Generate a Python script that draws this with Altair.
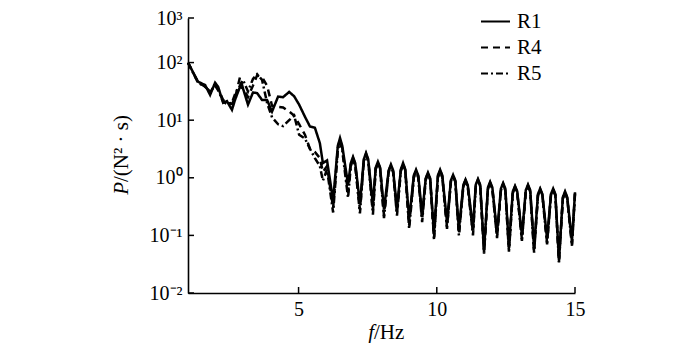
import altair as alt
import pandas as pd

# ---------------- data ----------------
series_names = ["R1", "R4", "R5"]

f_pre = [1.00, 1.36, 1.62, 1.80, 1.98, 2.09, 2.27, 2.41, 2.59, 2.70, 2.88, 2.99,
         3.17, 3.35, 3.50, 3.68, 3.86, 4.04, 4.26, 4.44, 4.66, 4.84, 5.02, 5.23,
         5.41, 5.59, 5.77, 5.88, 6.03]
r1_pre = [100, 46.8, 40.7, 27.5, 44.7, 38.0, 20.0, 21.4, 15.1, 22.4, 38.0, 35.5,
          18.6, 30.2, 29.5, 22.4, 22.4, 14.1, 25.7, 25.1, 30.9, 26.0, 18.6, 11.5,
          7.8, 7.4, 4.0, 1.8, 2.0]
r4_pre = [100, 45.7, 38.0, 30.2, 41.7, 35.5, 22.4, 20.0, 19.1, 24.0, 56.0, 35.5,
          25.1, 39.8, 60.0, 56.0, 39.8, 17.8, 17.0, 16.6, 14.1, 12.0, 8.5, 5.6,
          3.2, 2.8, 2.2, 1.26, 1.6]
r5_pre = [100, 44.7, 38.0, 31.6, 39.8, 33.1, 20.9, 19.1, 20.0, 28.2, 39.8, 50.0,
          31.6, 52.0, 63.0, 50.0, 20.0, 11.2, 8.5, 7.9, 10.0, 12.0, 5.6, 4.8,
          3.2, 2.2, 1.6, 0.89, 1.4]

f_osc = [6.25,
         6.42, 6.50, 6.58, 6.79,
         6.89, 6.97, 7.05, 7.22,
         7.36, 7.44, 7.52, 7.69,
         7.79, 7.87, 7.95, 8.09,
         8.26, 8.34, 8.42, 8.56,
         8.70, 8.78, 8.86, 9.00,
         9.17, 9.25, 9.33, 9.47,
         9.60, 9.68, 9.76, 9.90,
         10.04, 10.12, 10.20, 10.37,
         10.51, 10.59, 10.67, 10.80,
         10.96, 11.04, 11.12, 11.31,
         11.41, 11.49, 11.57, 11.71,
         11.85, 11.93, 12.01, 12.18,
         12.32, 12.40, 12.48, 12.61,
         12.75, 12.83, 12.91, 13.08,
         13.22, 13.30, 13.38, 13.52,
         13.66, 13.74, 13.82, 13.99,
         14.13, 14.21, 14.29, 14.42,
         14.56, 14.64, 14.72, 14.89,
         15.00]
r1_osc = [0.40,
          3.6, 4.9, 3.6, 0.76,
          1.8, 2.3, 1.8, 0.35,
          2.1, 2.7, 2.1, 0.34,
          1.5, 1.9, 1.5, 0.28,
          1.35, 1.7, 1.35, 0.30,
          1.4, 1.8, 1.4, 0.19,
          1.1, 1.38, 1.1, 0.23,
          0.98, 1.23, 0.98, 0.11,
          1.1, 1.38, 1.1, 0.17,
          0.9, 1.12, 0.9, 0.126,
          0.75, 0.93, 0.75, 0.135,
          0.76, 0.95, 0.76, 0.056,
          0.68, 0.85, 0.68, 0.112,
          0.65, 0.81, 0.65, 0.063,
          0.58, 0.72, 0.58, 0.10,
          0.61, 0.76, 0.61, 0.06,
          0.52, 0.65, 0.52, 0.087,
          0.52, 0.65, 0.52, 0.038,
          0.46, 0.58, 0.46, 0.079,
          0.56]
r4_osc = [0.30,
          3.3, 4.5, 3.3, 0.55,
          1.7, 2.2, 1.7, 0.28,
          2.0, 2.6, 2.0, 0.27,
          1.45, 1.85, 1.45, 0.22,
          1.3, 1.65, 1.3, 0.24,
          1.35, 1.75, 1.35, 0.15,
          1.05, 1.34, 1.05, 0.19,
          0.95, 1.2, 0.95, 0.09,
          1.05, 1.34, 1.05, 0.14,
          0.87, 1.09, 0.87, 0.105,
          0.72, 0.9, 0.72, 0.11,
          0.73, 0.92, 0.73, 0.05,
          0.65, 0.82, 0.65, 0.095,
          0.62, 0.78, 0.62, 0.055,
          0.56, 0.7, 0.56, 0.085,
          0.59, 0.74, 0.59, 0.052,
          0.5, 0.63, 0.5, 0.075,
          0.5, 0.63, 0.5, 0.035,
          0.44, 0.56, 0.44, 0.07,
          0.54]
r5_osc = [0.25,
          3.0, 4.2, 3.0, 0.45,
          1.6, 2.1, 1.6, 0.24,
          1.9, 2.5, 1.9, 0.23,
          1.4, 1.8, 1.4, 0.20,
          1.25, 1.6, 1.25, 0.22,
          1.3, 1.7, 1.3, 0.13,
          1.0, 1.3, 1.0, 0.17,
          0.92, 1.17, 0.92, 0.085,
          1.0, 1.3, 1.0, 0.13,
          0.85, 1.06, 0.85, 0.10,
          0.7, 0.88, 0.7, 0.10,
          0.71, 0.9, 0.71, 0.048,
          0.63, 0.8, 0.63, 0.09,
          0.6, 0.76, 0.6, 0.052,
          0.54, 0.68, 0.54, 0.08,
          0.57, 0.72, 0.57, 0.05,
          0.49, 0.61, 0.49, 0.07,
          0.49, 0.61, 0.49, 0.034,
          0.43, 0.55, 0.43, 0.066,
          0.52]

x_tick_values = [5, 10, 15]
y_tick_values = [0.01, 0.1, 1, 10, 100, 594]
y_domain = [0.01, 594]
x_domain = [1, 15]

# ---------------- build table ----------------
f_all = f_pre + f_osc
rows = []
for name, vals in zip(series_names, [r1_pre + r1_osc, r4_pre + r4_osc, r5_pre + r5_osc]):
    for i, (f, v) in enumerate(zip(f_all, vals)):
        rows.append({"f": f, "P": v, "series": name, "i": i})
df = pd.DataFrame(rows)

W, H = 387, 275
FONT = "Liberation Serif"

xscale = alt.Scale(domain=x_domain, nice=False, zero=False)
yscale = alt.Scale(type="log", domain=y_domain, nice=False)

label_expr = ("datum.value < 0.05 ? '10⁻²' : datum.value < 0.5 ? '10⁻¹' : "
              "datum.value < 5 ? '10⁰' : datum.value < 50 ? '10¹' : "
              "datum.value < 500 ? '10²' : '10³'")

lines = alt.Chart(df).mark_line(color="black", strokeWidth=2.5).encode(
    x=alt.X("f:Q", scale=xscale,
            axis=alt.Axis(values=x_tick_values, format="d", title=None, ticks=False,
                          grid=False, domainColor="black", domainWidth=1.6,
                          labelFont=FONT, labelFontSize=20, labelColor="black",
                          labelPadding=6, labelFlush=False)),
    y=alt.Y("P:Q", scale=yscale,
            axis=alt.Axis(values=y_tick_values, labelExpr=label_expr, title=None,
                          ticks=False, grid=False, domainColor="black", domainWidth=1.6,
                          labelFont=FONT, labelFontSize=20, labelColor="black",
                          labelPadding=6, labelFlush=False, labelOverlap=False)),
    strokeDash=alt.StrokeDash(
        "series:N",
        scale=alt.Scale(domain=series_names, range=[[1, 0], [7, 5], [7, 3, 2, 3]]),
        legend=alt.Legend(orient="none", legendX=292, legendY=-12, title=None,
                          symbolType="stroke", symbolSize=841, symbolStrokeWidth=2,
                          symbolStrokeColor="black", labelFont=FONT, labelFontSize=21,
                          labelColor="black", labelOffset=6, rowPadding=0, padding=0)),
    order="i:Q",
)

yticks = alt.Chart(pd.DataFrame({"P": y_tick_values})).mark_rule(
    color="black", strokeWidth=1.5).encode(
    y=alt.Y("P:Q", scale=yscale), x=alt.value(0), x2=alt.value(6))

xticks = alt.Chart(pd.DataFrame({"f": x_tick_values})).mark_rule(
    color="black", strokeWidth=1.5).encode(
    x=alt.X("f:Q", scale=xscale), y=alt.value(H), y2=alt.value(H - 6))

title_df = pd.DataFrame({"a": [0]})
xt1 = alt.Chart(title_df).mark_text(text="f", font=FONT, fontSize=21, fontStyle="italic",
                                    align="right", baseline="alphabetic", color="black").encode(
    x=alt.value(186), y=alt.value(321))
xt2 = alt.Chart(title_df).mark_text(text="/Hz", font=FONT, fontSize=21,
                                    align="left", baseline="alphabetic", color="black").encode(
    x=alt.value(186), y=alt.value(321))
yt1 = alt.Chart(title_df).mark_text(text="P", font=FONT, fontSize=21, fontStyle="italic",
                                    angle=270, align="right", baseline="middle", color="black").encode(
    x=alt.value(-66), y=alt.value(164))
yt2 = alt.Chart(title_df).mark_text(text="/(N² · s)", font=FONT, fontSize=21,
                                    angle=270, align="left", baseline="middle", color="black").encode(
    x=alt.value(-66), y=alt.value(164))

chart = alt.layer(lines, yticks, xticks, xt1, xt2, yt1, yt2).properties(
    width=W, height=H,
    autosize=alt.AutoSizeParams(type="none"),
    padding={"left": 180, "top": 10, "right": 100, "bottom": 50},
).configure_view(stroke=None).configure_axis(
    labelFont=FONT, labelColor="black"
).configure_legend(labelFont=FONT)

chart.save("out.html", embed_options={"renderer": "svg", "actions": False})
